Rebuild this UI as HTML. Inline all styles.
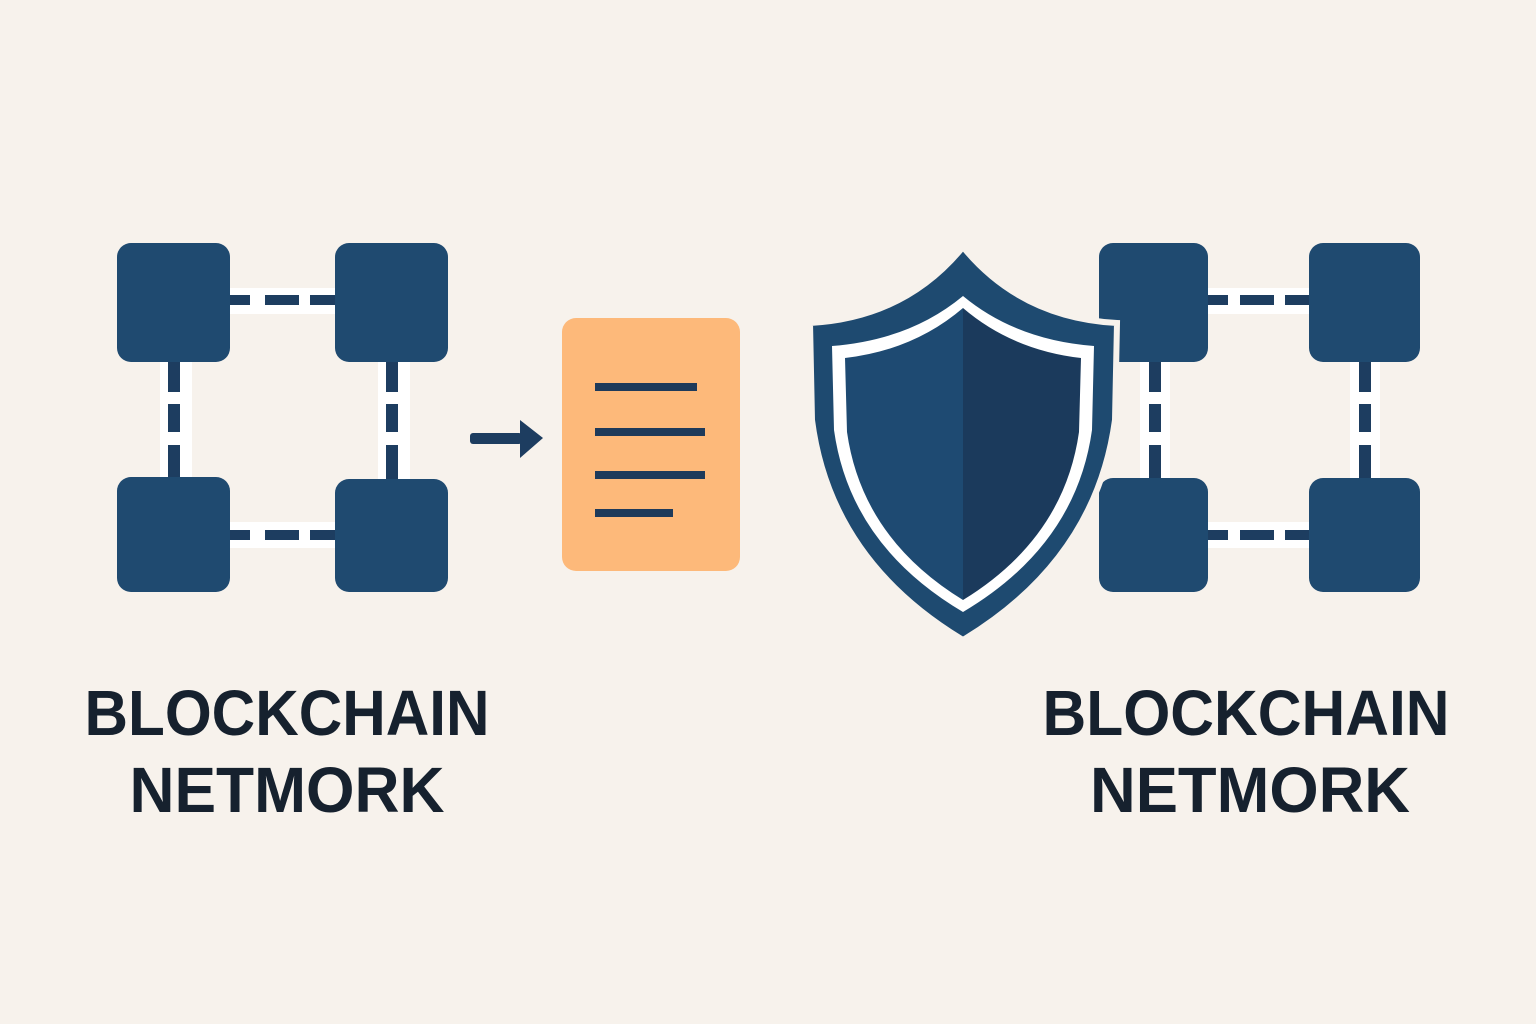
<!DOCTYPE html>
<html><head><meta charset="utf-8"><style>
html,body{margin:0;padding:0;background:#f7f2ec;}
svg{display:block}
</style></head><body>
<svg width="1536" height="1024" viewBox="0 0 1536 1024" xmlns="http://www.w3.org/2000/svg">
<rect width="1536" height="1024" fill="#f7f2ec"/>
<g id="netL">
  <!-- halos -->
  <g fill="#ffffff">
    <rect x="228" y="288" width="110" height="26"/>
    <rect x="228" y="522" width="110" height="26"/>
    <rect x="160" y="360" width="32" height="120"/>
    <rect x="378" y="360" width="32" height="120"/>
  </g>
  <g fill="#1d3d60">
    <rect x="228" y="295" width="22" height="10"/><rect x="265" y="295" width="34" height="10"/><rect x="310" y="295" width="28" height="10"/>
    <rect x="228" y="530" width="22" height="10"/><rect x="265" y="530" width="34" height="10"/><rect x="310" y="530" width="28" height="10"/>
    <rect x="168" y="360" width="12" height="32"/><rect x="168" y="404" width="12" height="28"/><rect x="168" y="445" width="12" height="35"/>
    <rect x="386" y="360" width="12" height="32"/><rect x="386" y="404" width="12" height="28"/><rect x="386" y="445" width="12" height="35"/>
  </g>
  <g fill="#1f4a70">
    <rect x="117" y="243" width="113" height="119" rx="14"/>
    <rect x="335" y="243" width="113" height="119" rx="14"/>
    <rect x="117" y="477" width="113" height="115" rx="14"/>
    <rect x="335" y="479" width="113" height="113" rx="14"/>
  </g>
</g>
<g fill="#1d3d60">
  <rect x="470" y="433" width="52" height="11" rx="3"/>
  <polygon points="520,420 543,438 520,458"/>
</g>
<rect x="562" y="318" width="178" height="253" rx="14" fill="#fdb97a"/>
<g fill="#1e3a5a">
  <rect x="595" y="383" width="102" height="8"/>
  <rect x="595" y="428" width="110" height="8"/>
  <rect x="595" y="471" width="110" height="8"/>
  <rect x="595" y="509" width="78" height="8"/>
</g>
<g id="netR">
  <g fill="#ffffff">
    <rect x="1206" y="288" width="106" height="26"/>
    <rect x="1206" y="522" width="106" height="26"/>
    <rect x="1140" y="360" width="30" height="120"/>
    <rect x="1350" y="360" width="30" height="120"/>
  </g>
  <g fill="#1d3d60">
    <rect x="1206" y="295" width="22" height="10"/><rect x="1240" y="295" width="34" height="10"/><rect x="1285" y="295" width="26" height="10"/>
    <rect x="1206" y="530" width="22" height="10"/><rect x="1240" y="530" width="34" height="10"/><rect x="1285" y="530" width="26" height="10"/>
    <rect x="1149" y="360" width="12" height="32"/><rect x="1149" y="404" width="12" height="28"/><rect x="1149" y="445" width="12" height="35"/>
    <rect x="1359" y="360" width="12" height="32"/><rect x="1359" y="404" width="12" height="28"/><rect x="1359" y="445" width="12" height="35"/>
  </g>
  <g fill="#1f4a70">
    <rect x="1099" y="243" width="109" height="119" rx="14"/>
    <rect x="1309" y="243" width="111" height="119" rx="14"/>
    <rect x="1099" y="478" width="109" height="114" rx="14"/>
    <rect x="1309" y="478" width="111" height="114" rx="14"/>
  </g>
</g>
<!-- shield -->
<path d="M963,247 Q905,318 810,323 L812,420 Q830,560 963,640 Q1096,560 1115,420 L1117,323 Q1021,318 963,247 Z" fill="#1e4a70" stroke="#f7f2ec" stroke-width="6"/>
<path d="M963,296 Q910,340 832,346 L834,430 Q850,545 963,612 Q1076,545 1092,430 L1094,346 Q1016,340 963,296 Z" fill="#ffffff"/>
<path d="M963,308 Q914,350 845,358 L847,432 Q862,538 963,600 L963,308 Z" fill="#1e4a72"/>
<path d="M963,308 Q1012,350 1081,358 L1079,432 Q1064,538 963,600 L963,308 Z" fill="#1b3a5c"/>
<g font-family="Liberation Sans, sans-serif" font-weight="bold" font-size="64" fill="#16212e" text-anchor="middle">
  <text x="287" y="735" textLength="405" lengthAdjust="spacingAndGlyphs">BLOCKCHAIN</text>
  <text x="287" y="812" textLength="315" lengthAdjust="spacingAndGlyphs">NETMORK</text>
  <text x="1246" y="735" textLength="407" lengthAdjust="spacingAndGlyphs">BLOCKCHAIN</text>
  <text x="1250" y="812" textLength="320" lengthAdjust="spacingAndGlyphs">NETMORK</text>
</g>
</svg>
</body></html>
